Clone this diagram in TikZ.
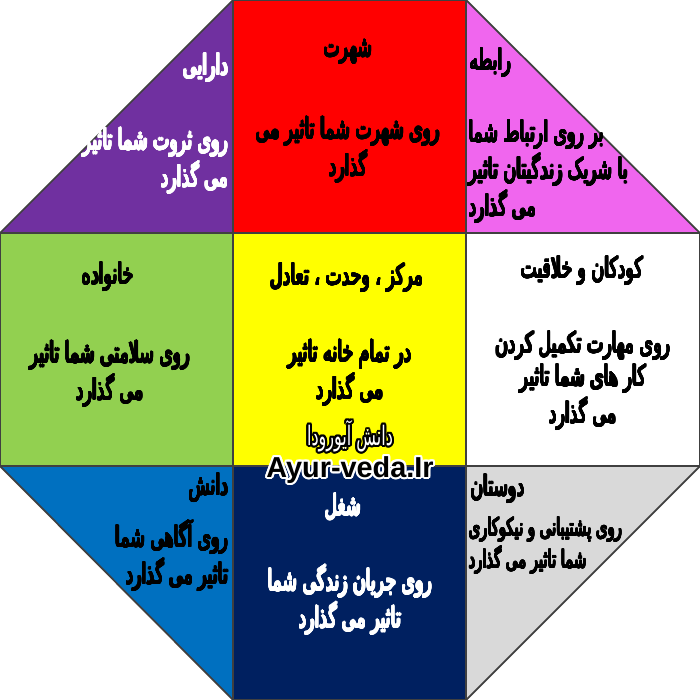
\documentclass[tikz,border=0pt]{standalone}
\usepackage{fontspec}
\usepackage{xcolor}
\usepackage[copies]{contour}
\usepackage{tikz}
\usetikzlibrary{positioning}
\TeXXeTstate=1
\newfontfamily\fafont[Script=Arabic,FakeStretch=0.6]{DejaVu Sans}
\newfontfamily\latfont{Liberation Sans Bold}
\contourlength{0.18pt}
\newcommand{\fa}[1]{\contour{.}{\beginR #1\endR}}
\definecolor{daraiColor}{HTML}{7030A0}
\definecolor{shohratColor}{HTML}{FF0000}
\definecolor{rabeteColor}{HTML}{F066EE}
\definecolor{khanevadeColor}{HTML}{92D050}
\definecolor{markazColor}{HTML}{FFFF00}
\definecolor{koodakColor}{HTML}{FFFFFF}
\definecolor{daneshColor}{HTML}{0070C0}
\definecolor{shoghlColor}{HTML}{002060}
\definecolor{doostColor}{HTML}{D9D9D9}

\begin{document}
\begin{tikzpicture}[x=0.01cm,y=-0.01cm,
                    cell/.style={draw=black!75,line width=0.5pt},
                    title/.style={font=\fafont\fontsize{8.2}{8}\selectfont,inner sep=0pt},
                    body/.style={font=\fafont\fontsize{8.2}{7.2}\selectfont,inner sep=0pt},
                    wm/.style={inner sep=0pt}]
    \useasboundingbox (0,0) rectangle (700,700);

    % colour fields
    \filldraw[cell,fill=daraiColor]     (0,233) -- (233,0) -- (233,233) -- cycle;
    \filldraw[cell,fill=shohratColor]   (233,0) rectangle (466,233);
    \filldraw[cell,fill=rabeteColor]    (466,0) -- (700,233) -- (466,233) -- cycle;
    \filldraw[cell,fill=khanevadeColor] (0,233) rectangle (233,466);
    \filldraw[cell,fill=markazColor]    (233,233) rectangle (466,466);
    \filldraw[cell,fill=koodakColor]    (466,233) rectangle (700,466);
    \filldraw[cell,fill=daneshColor]    (0,466) -- (233,466) -- (233,700) -- cycle;
    \filldraw[cell,fill=shoghlColor]    (233,466) rectangle (466,700);
    \filldraw[cell,fill=doostColor]     (466,466) -- (700,466) -- (466,700) -- cycle;

    % top row
    \node[title,white,anchor=east] (darai) at (229,68) {\fa{دارایی}};
    \node[body,white,anchor=east,align=right] (daraiText) at (229,161)
        {\fa{روی ثروت شما تاثیر}\\\fa{می گذارد}};
    \node[title] (shohrat) at (348,52) {\fa{شهرت}};
    \node[body,align=center] (shohratText) at (348,150)
        {\fa{روی شهرت شما تاثیر می}\\\fa{گذارد}};
    \node[title,anchor=west] (rabete) at (469,63) {\fa{رابطه}};
    \node[body,anchor=west,align=left] (rabeteText) at (468,172)
        {\fa{بر روی ارتباط شما}\\\fa{با شریک زندگیتان تاثیر}\\\fa{می گذارد}};

    % middle row
    \node[title] (khanevade) at (108,277) {\fa{خانواده}};
    \node[body,align=center] (khanevadeText) at (110,374)
        {\fa{روی سلامتی شما تاثیر}\\\fa{می گذارد}};
    \node[title] (markaz) at (347,278) {\fa{مرکز ، وحدت ، تعادل}};
    \node[body,align=center] (markazText) at (350,373)
        {\fa{در تمام خانه تاثیر}\\\fa{می گذارد}};
    \node[title] (koodak) at (582,271) {\fa{کودکان و خلاقیت}};
    \node[body,align=center] (koodakText) at (583,381)
        {\fa{روی  مهارت تکمیل کردن}\\\fa{کار های شما تاثیر}\\\fa{می گذارد}};

    % bottom row
    \node[title,anchor=east] (danesh) at (229,488) {\fa{دانش}};
    \node[body,anchor=east,align=right] (daneshText) at (229,556)
        {\fa{روی آگاهی شما}\\\fa{تاثیر می گذارد}};
    \node[title,white] (shoghl) at (343,507) {\fa{شغل}};
    \node[body,white,align=center] (shoghlText) at (350,600)
        {\fa{روی جریان زندگی شما}\\\fa{تاثیر می گذارد}};
    \node[title,anchor=west] (doost) at (470,489) {\fa{دوستان}};
    \node[body,anchor=west,align=left,font=\fafont\fontsize{7}{6.4}\selectfont] (doostText) at (468,546)
        {\fa{روی پشتیبانی و نیکوکاری}\\\fa{شما تاثیر می گذارد}};

    % site mark
    \node[wm,font=\fafont\fontsize{7.6}{8}\selectfont] (siteFa) at (350,437)
        {\contourlength{0.6pt}\contour{black}{\textcolor{white}{\beginR دانش آیورودا\endR}}};
    \node[wm,font=\latfont\fontsize{8.2}{10}\selectfont] (siteEn) at (350,471)
        {\contourlength{0.6pt}\contour{white}{Ayur-veda.Ir}};
\end{tikzpicture}
\end{document}
